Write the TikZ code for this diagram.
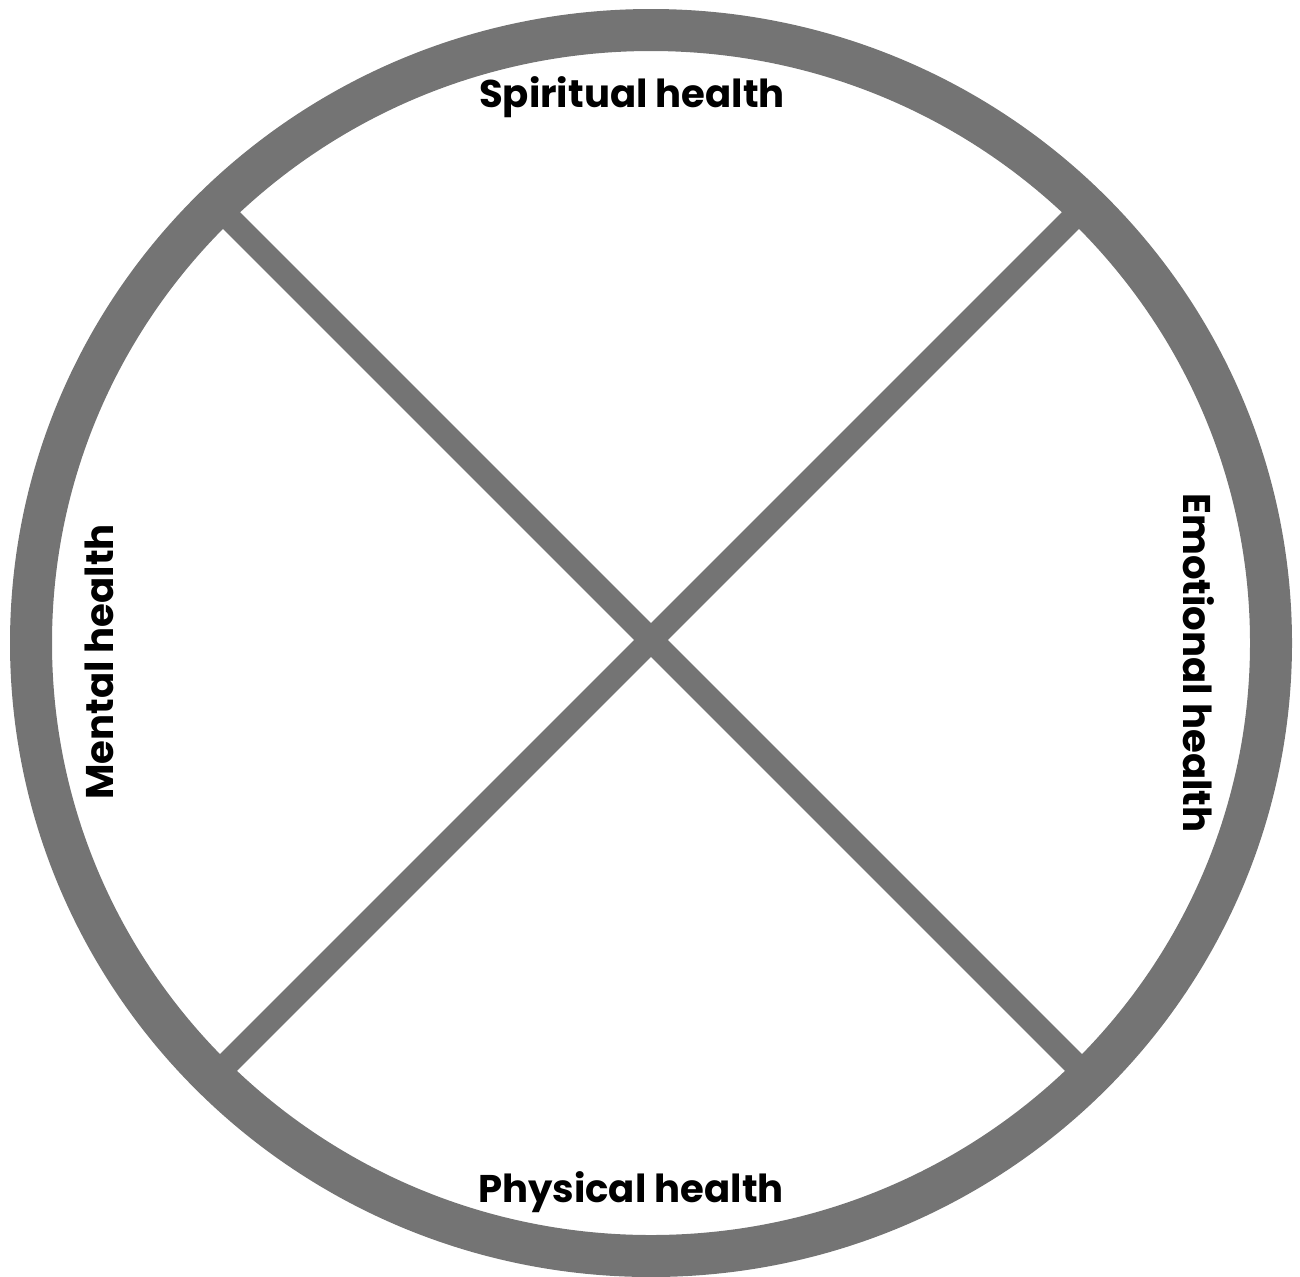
\documentclass[tikz,border=0pt]{standalone}
\usepackage{fontspec}
\setmainfont{Poppins}
\definecolor{ringgray}{RGB}{116,116,116}
\begin{document}
\begin{tikzpicture}[x=0.5pt,y=-0.5pt,
  spoke/.style={draw=ringgray,line width=12pt,line cap=butt},
  rim/.style={draw=ringgray,line width=21pt},
  label/.style={font=\fontsize{19.3}{23}\selectfont\bfseries,text=black,inner sep=0pt,anchor=base}]
  \useasboundingbox (0,0) rectangle (1300,1276);
  % crossing point and spoke ends on the rim
  \coordinate (c) at (651,640);
  \coordinate (ul) at (215,204);
  \coordinate (ur) at (1087,204);
  \coordinate (ll) at (215,1076);
  \coordinate (lr) at (1087,1076);
  \draw[spoke] (ul) -- (c) -- (lr);
  \draw[spoke] (ur) -- (c) -- (ll);
  % outer ring
  \draw[rim] (651,643) ellipse [x radius=620, y radius=613];
  % quadrant labels
  \node[label] (spiritual) at (632,107) {Spiritual health};
  \node[label] (physical) at (631,1202) {Physical health};
  \node[label,rotate=90] (mental) at (113,662) {Mental health};
  \node[label,rotate=-90] (emotional) at (1183,663) {Emotional health};
\end{tikzpicture}
\end{document}
